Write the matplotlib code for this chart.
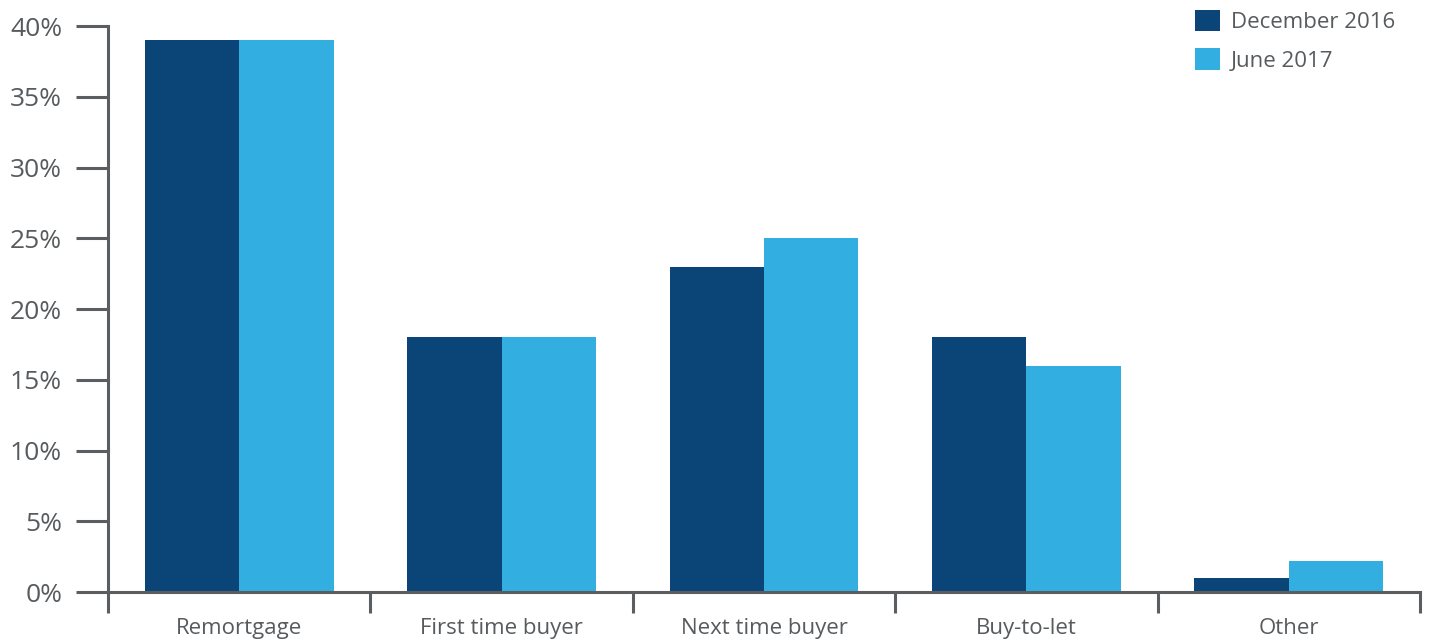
import numpy as np
import matplotlib.pyplot as plt
from matplotlib.patches import Patch

categories = ['Remortgage', 'First time buyer', 'Next time buyer', 'Buy-to-let', 'Other']
dec_2016 = [39, 18, 23, 18, 1.0]
jun_2017 = [39, 18, 25, 16, 2.2]
series_labels = ['December 2016', 'June 2017']
colors = ['#0b4577', '#33aee1']
yticks = [0, 5, 10, 15, 20, 25, 30, 35, 40]

plt.rcParams['font.family'] = ['Open Sans', 'DejaVu Sans']
text_color = '#575b5e'
axis_color = '#5a5e61'

fig = plt.figure(figsize=(14.3, 6.4), dpi=100)
ax = fig.add_axes([0.0755, 0.075, 0.9175, 0.884])

x = np.arange(len(categories))
w = 0.36
ax.bar(x - w / 2, dec_2016, width=w, color=colors[0], align='center')
ax.bar(x + w / 2, jun_2017, width=w, color=colors[1], align='center')

ax.set_xlim(-0.5, len(categories) - 0.5)
ax.set_ylim(0, 40)

for s in ['top', 'right']:
    ax.spines[s].set_visible(False)
for s in ['left', 'bottom']:
    ax.spines[s].set_color(axis_color)
    ax.spines[s].set_linewidth(2.2)

ax.set_yticks(yticks)
ax.set_yticklabels([f'{v}%' for v in yticks])
ax.tick_params(axis='y', direction='out', length=23, width=2.2, color=axis_color,
               labelsize=19, labelcolor=text_color, pad=10)

ax.set_xticks(x)
ax.set_xticklabels(categories)
ax.set_xticks(np.arange(-0.5, len(categories)), minor=True)
ax.tick_params(axis='x', which='major', length=0, labelsize=16, labelcolor=text_color, pad=19)
ax.tick_params(axis='x', which='minor', direction='out', length=15, width=2.2, color=axis_color)

handles = [Patch(facecolor=c, edgecolor='none') for c in colors]
leg = fig.legend(handles, series_labels, loc='upper left', bbox_to_anchor=(0.829, 1.0),
                 frameon=False, fontsize=16, handlelength=1.1, handleheight=1.1,
                 handletextpad=0.5, labelspacing=0.68, borderaxespad=0.05)
for t in leg.get_texts():
    t.set_color(text_color)

fig.savefig('out.png', dpi=100)
